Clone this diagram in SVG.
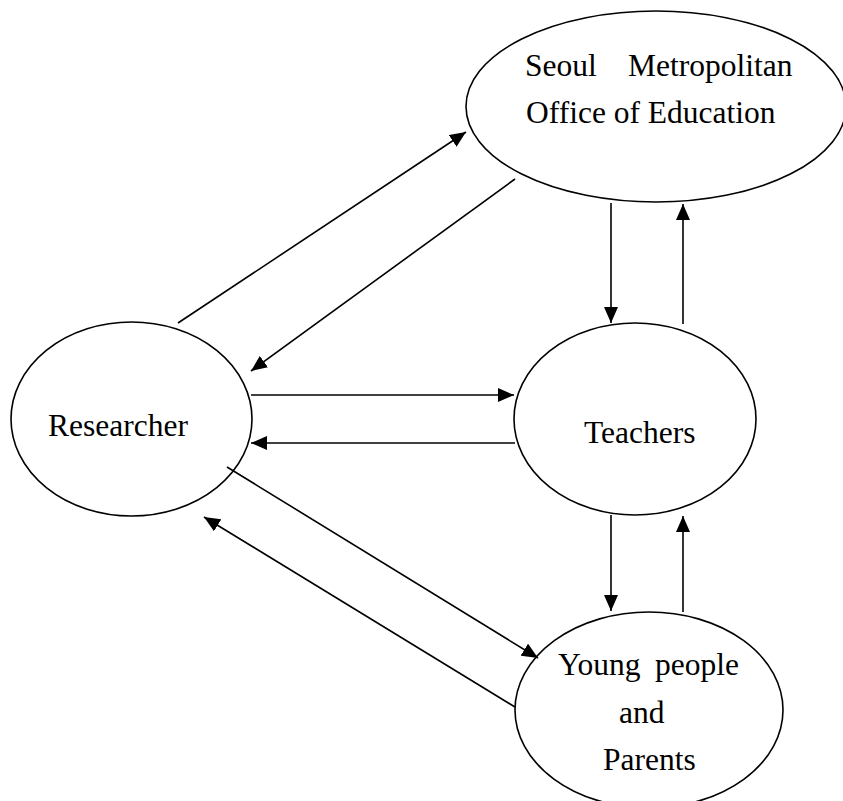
<svg xmlns="http://www.w3.org/2000/svg" width="843" height="801" viewBox="0 0 843 801">
<style>
  .node { fill: #ffffff; stroke: #000000; stroke-width: 1.6; }
  .lbl { font-family: "Liberation Serif", "Times New Roman", serif; font-size: 31.5px; fill: #000000; }
  .edge { stroke: #000000; stroke-width: 1.6; fill: none; marker-end: url(#arrow); }
</style>
<defs>
  <marker id="arrow" markerUnits="userSpaceOnUse" markerWidth="16" markerHeight="14" refX="16" refY="7" orient="auto">
    <path d="M0,0 L16,7 L0,14 z" fill="#000000"/>
  </marker>
</defs>
<rect width="843" height="801" fill="#ffffff"/>
<g id="seoul">
  <ellipse class="node" cx="656" cy="106.5" rx="190" ry="95.5"/>
  <text class="lbl" y="76"><tspan x="525">Seoul</tspan><tspan x="628">Metropolitan</tspan></text>
  <text class="lbl" x="526" y="123">Office of Education</text>
</g>
<g id="researcher">
  <ellipse class="node" cx="131.5" cy="419" rx="120.5" ry="97"/>
  <text class="lbl" x="48" y="436">Researcher</text>
</g>
<g id="teachers">
  <ellipse class="node" cx="635" cy="419" rx="121" ry="96"/>
  <text class="lbl" x="584" y="443">Teachers</text>
</g>
<g id="young">
  <ellipse class="node" cx="649" cy="710" rx="134" ry="98"/>
  <text class="lbl" y="675"><tspan x="558">Young</tspan><tspan x="655">people</tspan></text>
  <text class="lbl" x="619" y="723">and</text>
  <text class="lbl" x="603" y="770">Parents</text>
</g>
<g id="connectors">
  <line class="edge" x1="178" y1="323" x2="466" y2="132"/>
  <line class="edge" x1="515" y1="179" x2="251" y2="371"/>
  <line class="edge" x1="251" y1="395" x2="514" y2="395"/>
  <line class="edge" x1="515" y1="443" x2="251" y2="443"/>
  <line class="edge" x1="611" y1="203" x2="611" y2="323"/>
  <line class="edge" x1="683" y1="324" x2="683" y2="204"/>
  <line class="edge" x1="611" y1="515" x2="611" y2="611"/>
  <line class="edge" x1="683" y1="612" x2="683" y2="516"/>
  <line class="edge" x1="227" y1="467" x2="538" y2="658"/>
  <line class="edge" x1="515" y1="707" x2="204" y2="517"/>
</g>
</svg>
